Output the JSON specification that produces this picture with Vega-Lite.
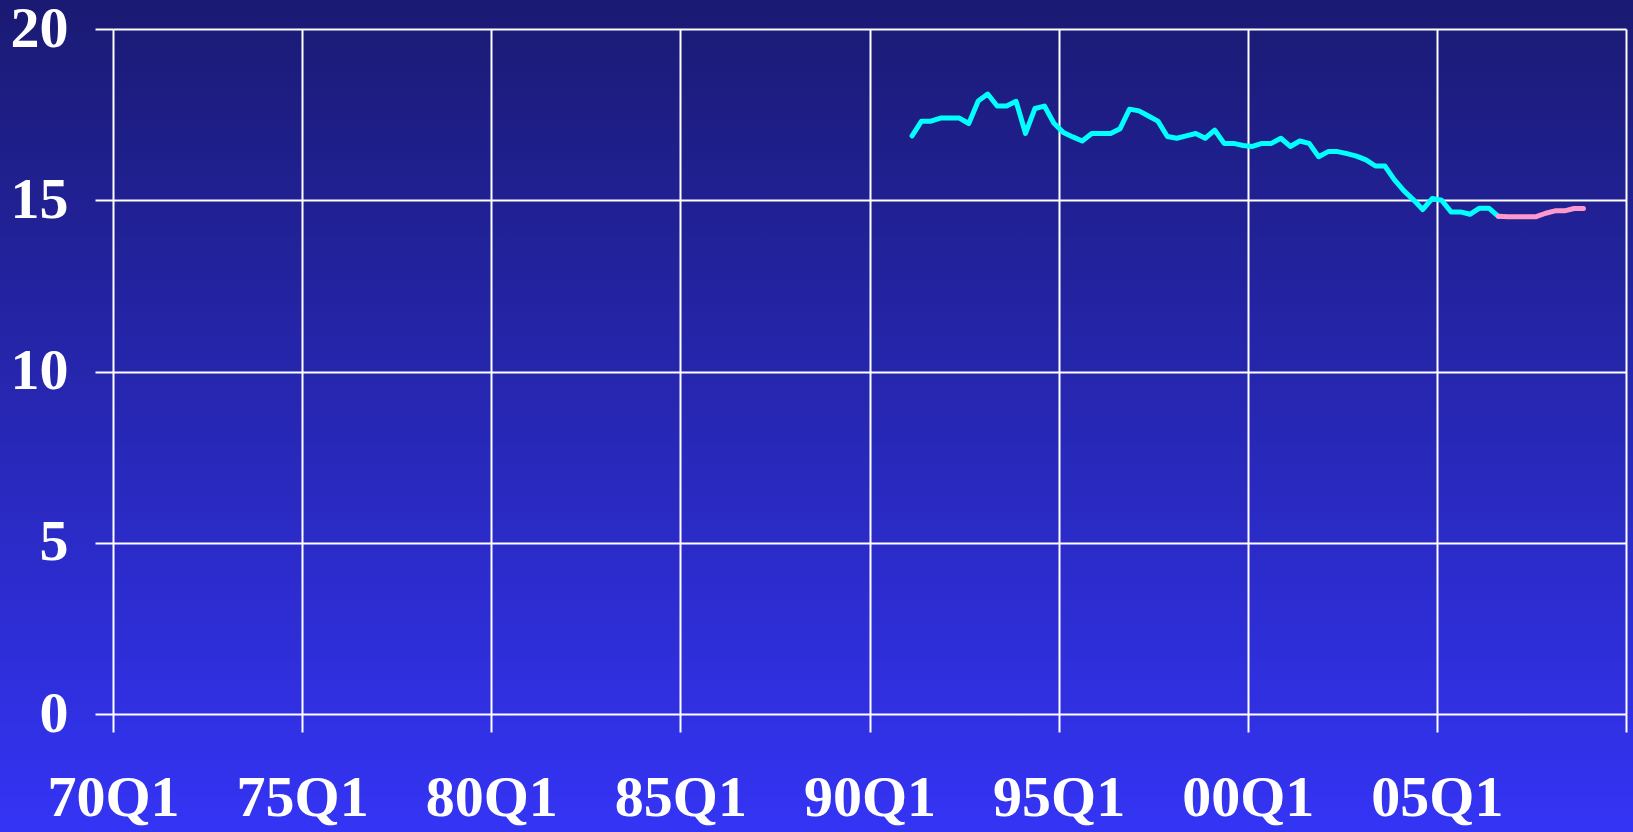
{
  "$schema": "https://vega.github.io/schema/vega-lite/v6.json",
  "width": 1633,
  "height": 832,
  "autosize": {"type": "none"},
  "padding": 0,
  "background": "#2626b0",
  "config": {
    "view": {
      "stroke": null,
      "fill": {"gradient": "linear", "x1": 0, "y1": 0, "x2": 0, "y2": 1,
        "stops": [{"offset": 0, "color": "#1a1a73"}, {"offset": 1, "color": "#3434f5"}]}
    },
    "axis": {
      "domain": false,
      "grid": true,
      "gridColor": "#ffffff",
      "gridWidth": 2,
      "gridOpacity": 1,
      "ticks": true,
      "tickColor": "#ffffff",
      "tickWidth": 2,
      "labelColor": "#ffffff",
      "labelFont": "Liberation Serif",
      "labelFontWeight": "bold",
      "labelFontSize": 58,
      "labelFlush": false,
      "labelOverlap": false,
      "labelBound": false,
      "title": null
    }
  },
  "data": {
    "values": [
      {"time": 1991.125, "series": "actual", "value": 16.88},
      {"time": 1991.375, "series": "actual", "value": 17.31},
      {"time": 1991.625, "series": "actual", "value": 17.31},
      {"time": 1991.875, "series": "actual", "value": 17.40},
      {"time": 1992.125, "series": "actual", "value": 17.40},
      {"time": 1992.375, "series": "actual", "value": 17.40},
      {"time": 1992.625, "series": "actual", "value": 17.24},
      {"time": 1992.875, "series": "actual", "value": 17.90},
      {"time": 1993.125, "series": "actual", "value": 18.10},
      {"time": 1993.375, "series": "actual", "value": 17.75},
      {"time": 1993.625, "series": "actual", "value": 17.75},
      {"time": 1993.875, "series": "actual", "value": 17.89},
      {"time": 1994.125, "series": "actual", "value": 16.95},
      {"time": 1994.375, "series": "actual", "value": 17.68},
      {"time": 1994.625, "series": "actual", "value": 17.75},
      {"time": 1994.875, "series": "actual", "value": 17.25},
      {"time": 1995.125, "series": "actual", "value": 16.98},
      {"time": 1995.375, "series": "actual", "value": 16.85},
      {"time": 1995.625, "series": "actual", "value": 16.73},
      {"time": 1995.875, "series": "actual", "value": 16.95},
      {"time": 1996.125, "series": "actual", "value": 16.95},
      {"time": 1996.375, "series": "actual", "value": 16.95},
      {"time": 1996.625, "series": "actual", "value": 17.09},
      {"time": 1996.875, "series": "actual", "value": 17.66},
      {"time": 1997.125, "series": "actual", "value": 17.61},
      {"time": 1997.375, "series": "actual", "value": 17.46},
      {"time": 1997.625, "series": "actual", "value": 17.31},
      {"time": 1997.875, "series": "actual", "value": 16.86},
      {"time": 1998.125, "series": "actual", "value": 16.81},
      {"time": 1998.375, "series": "actual", "value": 16.88},
      {"time": 1998.625, "series": "actual", "value": 16.95},
      {"time": 1998.875, "series": "actual", "value": 16.81},
      {"time": 1999.125, "series": "actual", "value": 17.05},
      {"time": 1999.375, "series": "actual", "value": 16.66},
      {"time": 1999.625, "series": "actual", "value": 16.66},
      {"time": 1999.875, "series": "actual", "value": 16.60},
      {"time": 2000.125, "series": "actual", "value": 16.57},
      {"time": 2000.375, "series": "actual", "value": 16.66},
      {"time": 2000.625, "series": "actual", "value": 16.66},
      {"time": 2000.875, "series": "actual", "value": 16.81},
      {"time": 2001.125, "series": "actual", "value": 16.57},
      {"time": 2001.375, "series": "actual", "value": 16.73},
      {"time": 2001.625, "series": "actual", "value": 16.66},
      {"time": 2001.875, "series": "actual", "value": 16.27},
      {"time": 2002.125, "series": "actual", "value": 16.42},
      {"time": 2002.375, "series": "actual", "value": 16.42},
      {"time": 2002.625, "series": "actual", "value": 16.36},
      {"time": 2002.875, "series": "actual", "value": 16.29},
      {"time": 2003.125, "series": "actual", "value": 16.18},
      {"time": 2003.375, "series": "actual", "value": 16.00},
      {"time": 2003.625, "series": "actual", "value": 16.00},
      {"time": 2003.875, "series": "actual", "value": 15.60},
      {"time": 2004.125, "series": "actual", "value": 15.28},
      {"time": 2004.375, "series": "actual", "value": 15.02},
      {"time": 2004.625, "series": "actual", "value": 14.73},
      {"time": 2004.875, "series": "actual", "value": 15.05},
      {"time": 2005.125, "series": "actual", "value": 15.00},
      {"time": 2005.375, "series": "actual", "value": 14.66},
      {"time": 2005.625, "series": "actual", "value": 14.66},
      {"time": 2005.875, "series": "actual", "value": 14.59},
      {"time": 2006.125, "series": "actual", "value": 14.77},
      {"time": 2006.375, "series": "actual", "value": 14.77},
      {"time": 2006.625, "series": "actual", "value": 14.53},
      {"time": 2006.625, "series": "forecast", "value": 14.53},
      {"time": 2006.875, "series": "forecast", "value": 14.52},
      {"time": 2007.125, "series": "forecast", "value": 14.52},
      {"time": 2007.375, "series": "forecast", "value": 14.52},
      {"time": 2007.625, "series": "forecast", "value": 14.52},
      {"time": 2007.875, "series": "forecast", "value": 14.62},
      {"time": 2008.125, "series": "forecast", "value": 14.69},
      {"time": 2008.375, "series": "forecast", "value": 14.69},
      {"time": 2008.625, "series": "forecast", "value": 14.76},
      {"time": 2008.875, "series": "forecast", "value": 14.76}
    ]
  },
  "mark": {"type": "line", "strokeWidth": 5, "strokeCap": "round", "strokeJoin": "round"},
  "encoding": {
    "x": {
      "field": "time",
      "type": "quantitative",
      "scale": {"domain": [1970, 2010], "range": [113, 1626], "nice": false, "zero": false},
      "axis": {
        "orient": "top",
        "offset": -714,
        "tickSize": -18,
        "values": [1970, 1975, 1980, 1985, 1990, 1995, 2000, 2005, 2010],
        "labelExpr": "datum.value >= 2010 ? '' : ((datum.value % 100) < 10 ? '0' : '') + (datum.value % 100) + 'Q1'",
        "labelPadding": -37,
        "labelDx": 5,
        "labelBaseline": "top"
      }
    },
    "y": {
      "field": "value",
      "type": "quantitative",
      "scale": {"domain": [0, 20], "range": [714, 29], "nice": false, "zero": false},
      "axis": {
        "orient": "left",
        "offset": -113,
        "tickSize": 18,
        "values": [0, 5, 10, 15, 20],
        "labelPadding": 27,
        "labelBaseline": "middle"
      }
    },
    "color": {
      "field": "series",
      "type": "nominal",
      "scale": {"domain": ["actual", "forecast"], "range": ["#00ffff", "#ff99cc"]},
      "legend": null
    },
    "order": {"field": "time", "type": "quantitative"}
  }
}
